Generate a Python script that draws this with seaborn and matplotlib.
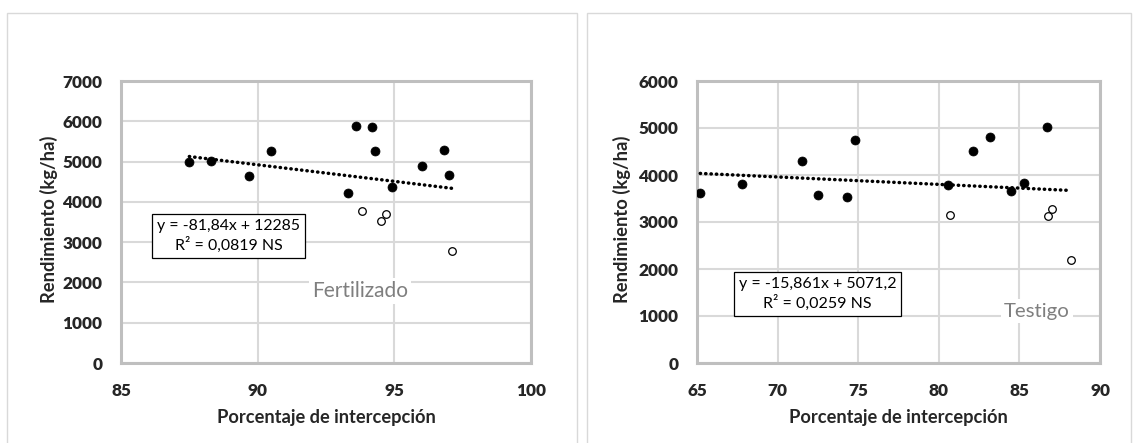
import matplotlib
matplotlib.use("Agg")
import matplotlib.pyplot as plt
from matplotlib.patches import Rectangle
import seaborn as sns
import pandas as pd

# ---- data: Fertilizado ----
fert_x_filled = [87.5, 88.3, 89.7, 90.5, 93.3, 93.6, 94.2, 94.3, 94.9, 96.0, 96.8, 97.0]
fert_y_filled = [4985, 5005, 4640, 5270, 4225, 5880, 5870, 5255, 4360, 4890, 5290, 4665]
fert_x_open = [93.8, 94.5, 94.7, 97.1]
fert_y_open = [3770, 3530, 3695, 2775]

# ---- data: Testigo ----
test_x_filled = [65.2, 67.8, 71.5, 72.5, 74.3, 74.8, 80.6, 82.1, 83.2, 84.5, 85.3, 86.7]
test_y_filled = [3625, 3815, 4305, 3580, 3525, 4745, 3795, 4505, 4800, 3665, 3830, 5015]
test_x_open = [80.7, 86.8, 87.0, 88.2]
test_y_open = [3140, 3130, 3270, 2200]

fert_eq = "y = -81,84x + 12285\nR² = 0,0819 NS"
test_eq = "y = -15,861x + 5071,2\nR² = 0,0259 NS"
fert_name = "Fertilizado"
test_name = "Testigo"
xlabel = "Porcentaje de intercepción"
ylabel = "Rendimiento (kg/ha)"

fert_xticks = [85, 90, 95, 100]
fert_yticks = [0, 1000, 2000, 3000, 4000, 5000, 6000, 7000]
test_xticks = [65, 70, 75, 80, 85, 90]
test_yticks = [0, 1000, 2000, 3000, 4000, 5000, 6000]

sns.set_theme(style="white")
plt.rcParams["font.family"] = ["Lato", "DejaVu Sans"]

W, H = 1133, 443
fig = plt.figure(figsize=(W / 100, H / 100), dpi=100)
renderer = fig.canvas.get_renderer()


def fit(t, target, vertical=False):
    for _ in range(4):
        bb = t.get_window_extent(renderer)
        cur = bb.height if vertical else bb.width
        t.set_fontsize(t.get_fontsize() * target / cur)
    return t.get_fontsize()


# panel borders
for (x0, x1) in [(7, 577), (587, 1131)]:
    fig.patches.append(Rectangle((x0 / W, -0.05), (x1 - x0) / W, 1 - 13 / H + 0.05,
                                 transform=fig.transFigure, fill=False,
                                 edgecolor="#d9d9d9", linewidth=1.0, zorder=0))


def make_panel(box, xf, yf, xo, yo, xticks, yticks, eq, eq_c, eq_w, name, name_c, name_w,
               ylab_x):
    L, T, R, B = box
    ax = fig.add_axes([L / W, 1 - B / H, (R - L) / W, (B - T) / H])
    df_all = pd.DataFrame({"x": xf + xo, "y": yf + yo})
    sns.regplot(data=df_all, x="x", y="y", ax=ax, scatter=False, ci=None,
                truncate=True,
                line_kws=dict(color="black", linewidth=2.5,
                              linestyle=(0, (0.1, 1.45)),
                              dash_capstyle="round", zorder=3))
    sns.scatterplot(x=xf, y=yf, ax=ax, color="black", s=42, edgecolor="black",
                    linewidth=0.5, zorder=4)
    sns.scatterplot(x=xo, y=yo, ax=ax, color="white", s=30, edgecolor="black",
                    linewidth=0.9, zorder=4)
    ax.set_xlim(xticks[0], xticks[-1])
    ax.set_ylim(yticks[0], yticks[-1])
    ax.set_xticks(xticks)
    ax.set_yticks(yticks)
    xl = ax.set_xticklabels([str(t) for t in xticks], fontsize=12, fontweight="heavy")
    yl = ax.set_yticklabels([str(t) for t in yticks], fontsize=12, fontweight="heavy")
    fs = fit(yl[-1], 40)
    for t in list(xl) + list(yl):
        t.set_fontsize(fs)
    ax.tick_params(axis="x", length=0, pad=14.5)
    ax.tick_params(axis="y", length=0, pad=13.3)
    ax.grid(True, color="#d9d9d9", linewidth=1.5, zorder=0)
    ax.set_axisbelow(True)
    for sp in ax.spines.values():
        sp.set_color("#bfbfbf")
        sp.set_linewidth(2.2)
    xlab = ax.set_xlabel(xlabel, fontsize=12, fontweight="bold")
    fit(xlab, 218)
    ax.xaxis.label.set_va("center")
    ax.xaxis.set_label_coords(0.5, -(418 - B) / (B - T))
    ylab = ax.set_ylabel(ylabel, fontsize=10, fontweight="bold")
    fit(ylab, 168, vertical=True)
    ax.yaxis.label.set_va("center")
    ax.yaxis.set_label_coords((ylab_x - L) / (R - L), (B - 219.5) / (B - T))
    te = ax.text((eq_c[0] - L) / (R - L), (B - eq_c[1]) / (B - T), eq,
                 transform=ax.transAxes, ha="center", va="center",
                 fontsize=11, linespacing=1.3, color="black", zorder=5,
                 bbox=dict(boxstyle="square,pad=0.32", facecolor="white",
                           edgecolor="black", linewidth=0.9))
    fit(te, eq_w)
    tn = ax.text((name_c[0] - L) / (R - L), (B - name_c[1]) / (B - T), name,
                 transform=ax.transAxes, ha="center", va="center", fontsize=15,
                 color="#7f7f7f", zorder=5,
                 bbox=dict(boxstyle="square,pad=0.15", facecolor="white",
                           edgecolor="none"))
    fit(tn, name_w)
    return ax


make_panel((121, 81, 531, 363),
           fert_x_filled, fert_y_filled, fert_x_open, fert_y_open,
           fert_xticks, fert_yticks, fert_eq, (228.6, 236), 143,
           fert_name, (360, 291), 96, 48.6)

make_panel((697, 81, 1100, 363),
           test_x_filled, test_y_filled, test_x_open, test_y_open,
           test_xticks, test_yticks, test_eq, (817.5, 294), 157.6,
           test_name, (1037, 311), 66, 622)

fig.savefig("out.png", dpi=100, facecolor="white")
